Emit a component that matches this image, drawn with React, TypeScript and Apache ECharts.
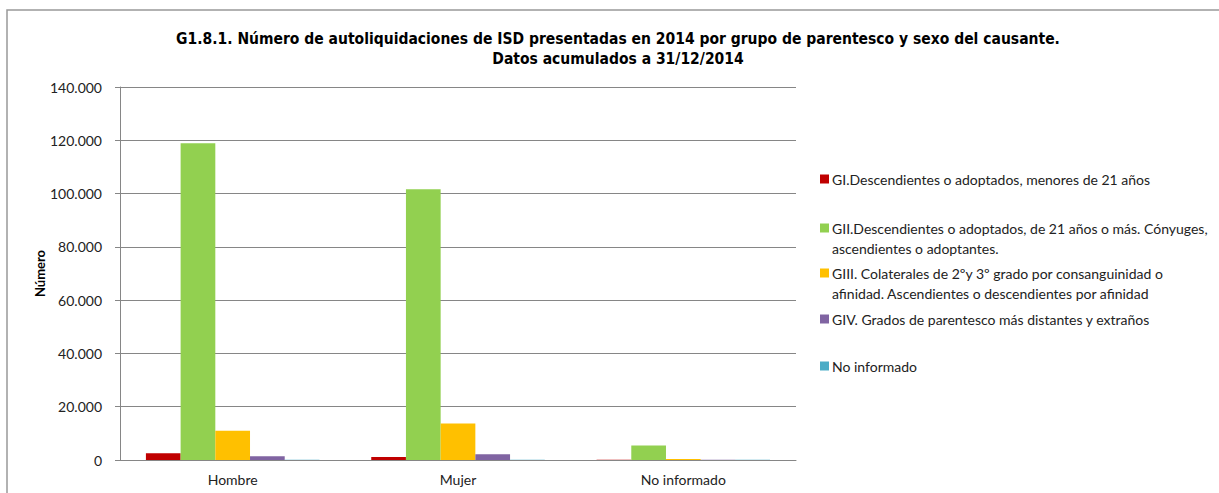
import React, { useEffect, useRef } from "react";
import * as echarts from "echarts";

const categories = ["Hombre", "Mujer", "No informado"];
const seriesNames = [
  "GI.Descendientes o adoptados, menores de 21 años",
  "GII.Descendientes o adoptados, de 21 años o más. Cónyuges,",
  "GIII. Colaterales de 2ºy 3º grado por consanguinidad o",
  "GIV. Grados de parentesco más distantes y extraños",
  "No informado",
];
const legendSecondLines = ["", "ascendientes o adoptantes.", "afinidad. Ascendientes o descendientes por afinidad", "", ""];
const gI = [2500, 1100, 60];
const gII = [118900, 101600, 5400];
const gIII = [11000, 13700, 400];
const gIV = [1400, 2200, 80];
const noInf = [60, 60, 60];
const colors = ["#C00000", "#92D050", "#FFC000", "#8064A2", "#4BACC6"];
const yMax = 140000;
const yInterval = 20000;
const titleLines = [
  "G1.8.1. Número de autoliquidaciones de ISD presentadas en 2014 por grupo de parentesco y sexo del causante.",
  "Datos acumulados a 31/12/2014",
];

const legendTops = [172, 221, 266, 312, 359];
const font = "Lato, 'Open Sans', sans-serif";

export default function App() {
  const ref = useRef<HTMLDivElement>(null);
  useEffect(() => {
    if (!ref.current) return;
    const chart = echarts.init(ref.current, undefined, { renderer: "svg" });
    const allData = [gI, gII, gIII, gIV, noInf];
    const fmt = (v: number) => String(v).replace(/\B(?=(\d{3})+(?!\d))/g, ".");
    chart.setOption({
      animation: false,
      backgroundColor: "#fff",
      title: {
        text: titleLines.join("\n"),
        left: 613,
        textAlign: "center",
        top: 24,
        textStyle: {
          fontFamily: "'Liberation Sans Narrow', 'DejaVu Sans Condensed', sans-serif",
          fontWeight: "bold",
          fontSize: 15.5,
          lineHeight: 20,
          color: "#000",
        },
      },
      legend: seriesNames.map((n, i) => ({
        data: [n],
        orient: "vertical",
        left: 820,
        top: legendTops[i],
        padding: 0,
        itemWidth: 9,
        itemHeight: 9,
        itemGap: 0,
        icon: "rect",
        selectedMode: false,
        textStyle: { fontFamily: font, fontSize: 14, color: "#222", padding: [0, 0, 0, -2] },
      })),
      graphic: [
        {
          type: "rect",
          shape: { x: 7, y: 10, width: 1240, height: 500 },
          style: { fill: "none", stroke: "#999", lineWidth: 1.5 },
          silent: true,
        },
        ...legendSecondLines
          .map((t, i) => ({ t, i }))
          .filter((o) => o.t)
          .map((o) => ({
            type: "text",
            left: 832,
            top: legendTops[o.i] + 20,
            style: { text: o.t, font: `14px ${font}`, fill: "#222" },
          })),
      ],
      grid: { left: 120, right: 423, top: 87, bottom: 33, containLabel: false },
      xAxis: {
        type: "category",
        data: categories,
        axisLine: { lineStyle: { color: "#868686", width: 1 } },
        axisTick: { show: false },
        axisLabel: { fontFamily: font, fontSize: 14, color: "#222", margin: 12 },
      },
      yAxis: {
        type: "value",
        min: 0,
        max: yMax,
        interval: yInterval,
        name: "Número",
        nameLocation: "middle",
        nameGap: 74,
        nameMoveOverlap: false,
        nameTextStyle: { fontFamily: font, fontSize: 13, fontWeight: "bold", color: "#000" },
        axisLine: { show: true, lineStyle: { color: "#868686" } },
        axisTick: { show: true, length: 5, lineStyle: { color: "#868686" } },
        splitLine: { lineStyle: { color: "#868686", width: 1 } },
        axisLabel: { fontFamily: font, fontSize: 14, color: "#222", margin: 18, formatter: fmt },
      },
      series: seriesNames.map((n, i) => ({
        name: n,
        type: "bar",
        data: allData[i],
        barGap: "0%",
        barCategoryGap: "23%",
        itemStyle: { color: colors[i] },
      })),
    });
    return () => chart.dispose();
  }, []);
  return (
    <div
      ref={ref}
      style={{ position: "fixed", left: 0, top: 0, width: 1219, height: 493 }}
    />
  );
}
